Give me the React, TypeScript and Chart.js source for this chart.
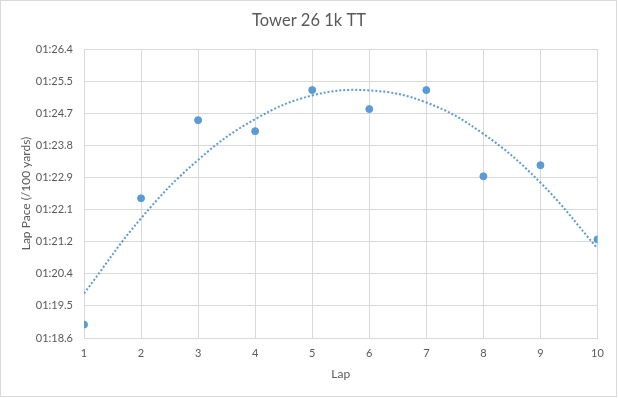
import React, { useEffect, useRef } from "react";
import { Chart, registerables } from "chart.js";
Chart.register(...registerables);

const laps = [1, 2, 3, 4, 5, 6, 7, 8, 9, 10];
// lap pace in seconds
const paceSeconds = [78.985, 82.383, 84.486, 84.19, 85.295, 84.783, 85.295, 82.976, 83.273, 81.277];
// polynomial (order 2) trendline values read at each lap
const trendSeconds = [79.821, 81.844, 83.416, 84.513, 85.15, 85.285, 84.961, 84.117, 82.804, 81.035];
const yTickValues = [78.624, 79.488, 80.352, 81.216, 82.08, 82.944, 83.808, 84.672, 85.536, 86.4];
const yTickLabels = ["01:18.6", "01:19.5", "01:20.4", "01:21.2", "01:22.1", "01:22.9", "01:23.8", "01:24.7", "01:25.5", "01:26.4"];
const titleText = "Tower 26 1k TT";
const yTitle = "Lap Pace (/100 yards)";
const xTitle = "Lap";

const FONT = "Lato, 'Open Sans', sans-serif";
const TEXT = "#595959";
const GRID = "#D9D9D9";
const BLUE = "#5B9BD5";

export default function App() {
  const ref = useRef<HTMLCanvasElement>(null);
  useEffect(() => {
    document.body.style.margin = "0";
    const frame = {
      id: "frame",
      afterDraw(chart: any) {
        const ctx = chart.ctx;
        ctx.save();
        ctx.strokeStyle = GRID;
        ctx.lineWidth = 1;
        ctx.strokeRect(0.5, 0.5, 616, 396);
        ctx.fillStyle = TEXT;
        ctx.font = `16.5px ${FONT}`;
        ctx.textAlign = "center";
        ctx.textBaseline = "middle";
        ctx.fillText(titleText, 309, 21);
        ctx.restore();
      },
    };
    const chart = new Chart(ref.current!, {
      type: "scatter",
      data: {
        datasets: [
          {
            label: "Pace",
            data: laps.map((x, i) => ({ x, y: paceSeconds[i] })),
            backgroundColor: BLUE,
            borderColor: BLUE,
            pointRadius: 3.5,
            pointHoverRadius: 3.5,
            order: 0,
          },
          {
            type: "line",
            label: "Trend",
            data: laps.map((x, i) => ({ x, y: trendSeconds[i] })),
            borderColor: BLUE,
            borderWidth: 2,
            borderDash: [2, 2],
            pointRadius: 0,
            tension: 0.4,
            fill: false,
            order: 1,
          } as any,
        ],
      },
      options: {
        responsive: false,
        animation: false,
        events: [],
        layout: { padding: { top: 49, right: 20.5, bottom: 0, left: 0 } },
        plugins: { legend: { display: false }, title: { display: false }, tooltip: { enabled: false } },
        scales: {
          x: {
            type: "linear",
            min: 1,
            max: 10,
            afterBuildTicks: (s: any) => {
              s.ticks = laps.map((v) => ({ value: v }));
            },
            afterFit: (s: any) => {
              s.height = 60;
            },
            ticks: {
              color: TEXT,
              font: { family: FONT, size: 11 },
              padding: 9,
              maxRotation: 0,
              callback: (v: any) => String(v),
            },
            grid: { color: GRID, drawTicks: false },
            border: { color: GRID },
            title: {
              display: true,
              text: xTitle,
              color: TEXT,
              font: { family: FONT, size: 12 },
              padding: { top: 0, bottom: 17 },
            },
          },
          y: {
            type: "linear",
            min: yTickValues[0],
            max: yTickValues[yTickValues.length - 1],
            afterBuildTicks: (s: any) => {
              s.ticks = yTickValues.map((v) => ({ value: v }));
            },
            afterFit: (s: any) => {
              s.width = 84;
            },
            ticks: {
              color: TEXT,
              font: { family: FONT, size: 11 },
              padding: 11,
              callback: (v: any, i: number) => yTickLabels[i],
            },
            grid: { color: GRID, drawTicks: false },
            border: { color: GRID },
            title: {
              display: true,
              text: yTitle,
              color: TEXT,
              font: { family: FONT, size: 12 },
              padding: { top: 19, bottom: 0 },
            },
          },
        },
      },
      plugins: [frame],
    } as any);
    return () => chart.destroy();
  }, []);
  return (
    <div style={{ position: "fixed", left: 0, top: 0, width: 618, height: 398, background: "#fff" }}>
      <canvas ref={ref} width={618} height={398} style={{ display: "block" }} />
    </div>
  );
}
